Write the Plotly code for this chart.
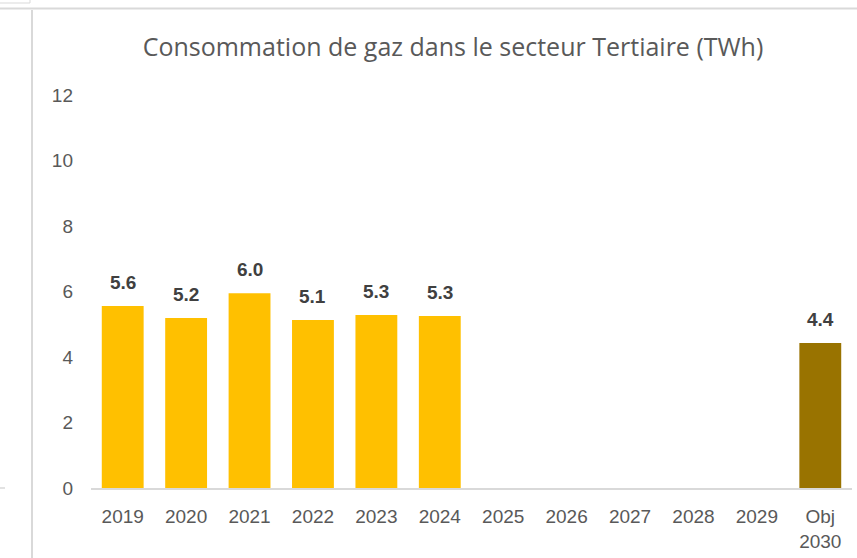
import plotly.graph_objects as go

categories = ["2019", "2020", "2021", "2022", "2023", "2024", "2025", "2026", "2027", "2028", "2029", "Obj<br>2030"]
values = [5.56, 5.19, 5.95, 5.13, 5.28, 5.25, None, None, None, None, None, 4.43]
labels = ["5.6", "5.2", "6.0", "5.1", "5.3", "5.3", "", "", "", "", "", "4.4"]
colors = ["#FFC000"] * 11 + ["#997300"]

W, H = 857, 558
L, R, T, B = 91, 5, 95, 70
pw, ph = W - L - R, H - T - B

def px(x):
    return (x - L) / pw

def py(y):
    return (H - B - y) / ph

fig = go.Figure()
fig.add_trace(go.Bar(
    x=categories, y=values, marker=dict(color=colors, line=dict(width=0)),
    width=0.66, hoverinfo="skip",
))

# data labels: x given as category index so numeric-looking names are not misread
annotations = [
    dict(x=i, y=v, xref="x", yref="y", text=t, showarrow=False, yanchor="bottom",
         yshift=11, font=dict(family="Liberation Sans", size=19, color="#404040", weight="bold"))
    for i, (v, t) in enumerate(zip(values, labels)) if v is not None
]

line_c = "#D9D9D9"
shapes = [
    dict(type="line", xref="paper", yref="paper", x0=px(0), x1=px(W), y0=py(8.5), y1=py(8.5), line=dict(color=line_c, width=2)),
    dict(type="line", xref="paper", yref="paper", x0=px(0), x1=px(30), y0=py(3), y1=py(3), line=dict(color=line_c, width=1)),
    dict(type="line", xref="paper", yref="paper", x0=px(30), x1=px(30), y0=py(0), y1=py(3), line=dict(color=line_c, width=1)),
    dict(type="line", xref="paper", yref="paper", x0=px(32), x1=px(32), y0=py(10), y1=py(H), line=dict(color=line_c, width=2)),
    dict(type="line", xref="paper", yref="paper", x0=px(0), x1=px(5), y0=py(488), y1=py(488), line=dict(color=line_c, width=1.5)),
]

fig.update_layout(
    width=W, height=H,
    margin=dict(l=L, r=R, t=T, b=B, pad=0),
    paper_bgcolor="white", plot_bgcolor="white",
    showlegend=False, bargap=0.34,
    shapes=shapes, annotations=annotations,
    title=dict(text="Consommation de gaz dans le secteur Tertiaire (TWh)",
               xref="container", yref="container",
               x=453 / W, xanchor="center", y=1 - 47 / H, yanchor="middle",
               font=dict(family="Open Sans", size=25, color="#595959")),
    font=dict(family="Liberation Sans", color="#595959"),
    xaxis=dict(type="category", showgrid=False, showline=True, linecolor=line_c, linewidth=2,
               range=[-0.5, 11.5],
               ticks="", tickfont=dict(size=19, color="#595959"), ticklabelstandoff=10, fixedrange=True),
    yaxis=dict(range=[0, 12], tickvals=[0, 2, 4, 6, 8, 10, 12], showgrid=False, showline=False,
               zeroline=False, ticks="", tickfont=dict(size=19, color="#595959"),
               ticklabelstandoff=17, fixedrange=True),
)

fig.write_html("out.html", config={"displayModeBar": False},
               post_script="document.body.style.margin='0';")
